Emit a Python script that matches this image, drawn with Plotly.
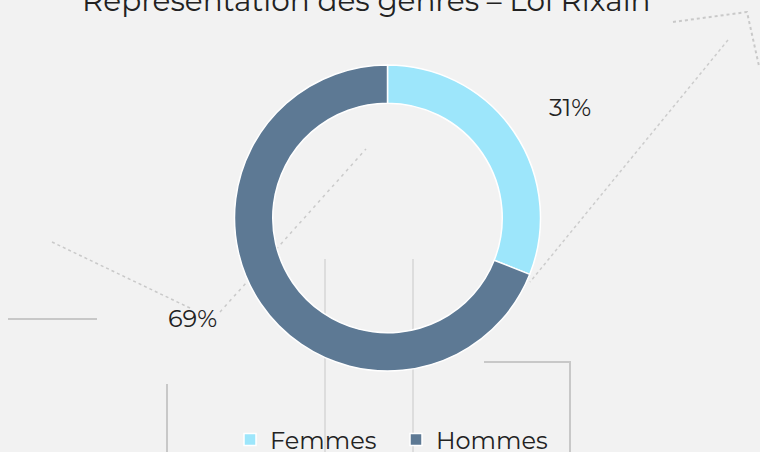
import plotly.graph_objects as go
import math

categories = ["Femmes", "Hommes"]
values = [31, 69]
colors = ["#9de6fb", "#5d7994"]
title_text = "Représentation des genres – Loi Rixain"

W, H = 760, 452
CX, CY, R = 387.5, 218, 153
FONT = "Montserrat, 'DejaVu Sans', sans-serif"

def px(x):
    return x / W

def py(y):
    return 1 - y / H

fig = go.Figure(go.Pie(
    labels=categories, values=values, hole=0.75, sort=False,
    direction="clockwise", rotation=0, textinfo="none",
    marker=dict(colors=colors, line=dict(color="#ffffff", width=1.5)),
    domain=dict(x=[px(CX - R), px(CX + R)], y=[py(CY + R), py(CY - R)]),
    hoverinfo="label+percent",
))

# decorative background lines (pixel coords -> paper)
deco = [
    ([(673, 22), (747, 12), (759, 66)], "#c9c9c9", 2, "dot"),
    ([(728, 40), (530, 282)], "#cccccc", 1.5, "dot"),
    ([(52, 242), (192, 309)], "#c9c9c9", 1.5, "dot"),
    ([(220, 312), (366, 149)], "#cacaca", 1.5, "3px,4px"),
    ([(8, 319), (97, 319)], "#c8c8c8", 2, "solid"),
    ([(325, 259), (325, 452)], "#dddddd", 2, "solid"),
    ([(413, 259), (413, 452)], "#dddddd", 2, "solid"),
    ([(484, 362), (570, 362), (570, 452)], "#c8c8c8", 2, "solid"),
    ([(167, 384), (167, 452)], "#c8c8c8", 2, "solid"),
]
shapes = []
for pts, col, w, dash in deco:
    path = "M " + " L ".join(f"{px(x):.5f},{py(y):.5f}" for x, y in pts)
    shapes.append(dict(type="path", path=path, xref="paper", yref="paper",
                       line=dict(color=col, width=w, dash=dash), layer="below"))

# percentage labels placed around the slice mid-angles
annotations = []
total = sum(values)
start = 0.0
LCX, LCY, RX, RY = 381, 213, 228.5, 187
for v in values:
    mid = (start + v / 2) / total * 2 * math.pi
    start += v
    x = LCX + RX * math.sin(mid)
    y = LCY - RY * math.cos(mid)
    annotations.append(dict(x=px(x), y=py(y), xref="paper", yref="paper",
                            text=f"{round(v / total * 100)}%", showarrow=False,
                            font=dict(size=24, color="#222222", family=FONT),
                            xanchor="center", yanchor="middle"))

annotations.append(dict(x=px(366), y=py(0), xref="paper", yref="paper",
                        text=title_text, showarrow=False,
                        font=dict(size=29.5, color="#222222", family=FONT),
                        xanchor="center", yanchor="middle"))

fig.update_layout(
    width=W, height=H,
    margin=dict(l=0, r=0, t=0, b=0, autoexpand=False),
    paper_bgcolor="#f2f2f2", plot_bgcolor="#f2f2f2",
    shapes=shapes, annotations=annotations,
    showlegend=True,
    legend=dict(orientation="h", x=px(230), xanchor="left", y=py(440), yanchor="middle",
                entrywidth=121, entrywidthmode="pixels",
                font=dict(size=24, color="#222222", family=FONT),
                bgcolor="rgba(0,0,0,0)", itemclick=False),
    font=dict(family=FONT),
)

fig.write_html("out.html")
